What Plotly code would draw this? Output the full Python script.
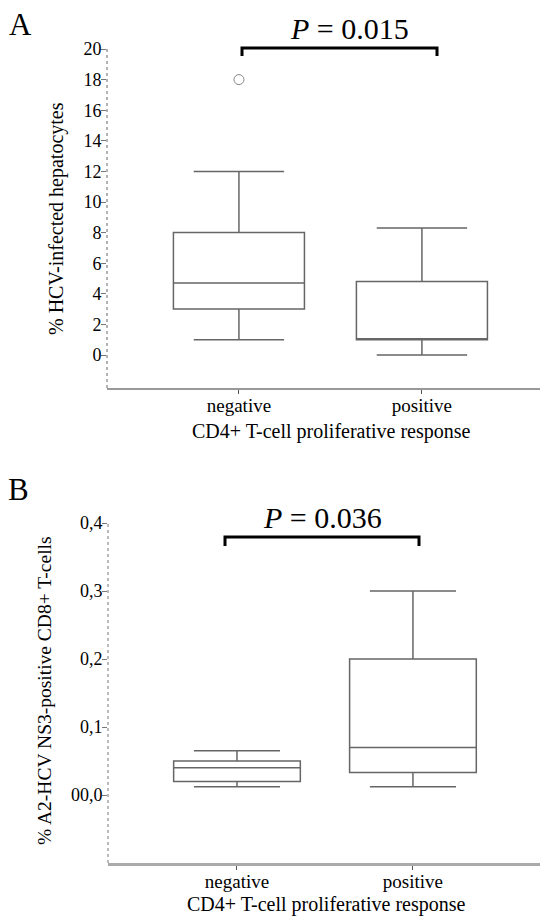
import plotly.graph_objects as go

# ---------------- data ----------------
categories = ["negative", "positive"]

# Panel A: % HCV-infected hepatocytes
a_lower = [1.0, 0.0]
a_q1 = [3.0, 1.0]
a_median = [4.7, 1.0]
a_q3 = [8.0, 4.8]
a_upper = [12.0, 8.3]
a_outlier_cat = ["negative"]
a_outlier_val = [18.0]
a_ticks = [0, 2, 4, 6, 8, 10, 12, 14, 16, 18, 20]
a_ticktext = ["0", "2", "4", "6", "8", "10", "12", "14", "16", "18", "20"]

# Panel B: % A2-HCV NS3-positive CD8+ T-cells
b_lower = [0.012, 0.012]
b_q1 = [0.020, 0.033]
b_median = [0.040, 0.070]
b_q3 = [0.050, 0.200]
b_upper = [0.065, 0.300]
b_ticks = [0.0, 0.1, 0.2, 0.3, 0.4]
b_ticktext = ["00,0", "0,1", "0,2", "0,3", "0,4"]

p_a = "<i>P</i> = 0.015"
p_b = "<i>P</i> = 0.036"
x_title = "CD4+ T-cell proliferative response"
a_y_title = "% HCV-infected hepatocytes"
b_y_title = "% A2-HCV NS3-positive CD8+ T-cells"

# ---------------- figure ----------------
# the page body has an 8px margin, so the figure is 8px smaller than the window
OFF = 8
W, H = 548 - OFF, 918 - OFF
FONT = '"Liberation Serif", "Times New Roman", "DejaVu Serif", serif'
BOXLINE = "#666666"


def px(x):
    return (x - OFF) / W


def py(y):
    return 1 - (y - OFF) / H


fig = go.Figure()

fig.add_trace(go.Box(
    x=categories, q1=a_q1, median=a_median, q3=a_q3,
    lowerfence=a_lower, upperfence=a_upper,
    boxpoints=False, width=0.716, whiskerwidth=0.69,
    line=dict(color=BOXLINE, width=1.5), fillcolor="rgba(0,0,0,0)",
    showlegend=False, xaxis="x", yaxis="y",
))
fig.add_trace(go.Scatter(
    x=a_outlier_cat, y=a_outlier_val, mode="markers",
    marker=dict(symbol="circle-open", size=10, color="#888888", line=dict(width=1)),
    showlegend=False, xaxis="x", yaxis="y",
))
fig.add_trace(go.Box(
    x=categories, q1=b_q1, median=b_median, q3=b_q3,
    lowerfence=b_lower, upperfence=b_upper,
    boxpoints=False, width=0.72, whiskerwidth=0.68,
    line=dict(color=BOXLINE, width=1.5), fillcolor="rgba(0,0,0,0)",
    showlegend=False, xaxis="x2", yaxis="y2",
))

xaxis_common = dict(
    type="category", showgrid=False, zeroline=False, showline=True,
    automargin=False,
    ticks="outside", ticklen=4, tickcolor="#555555", ticklabelstandoff=-5,
    tickfont=dict(family=FONT, size=19, color="black"),
)
yaxis_common = dict(
    showgrid=False, zeroline=False, showline=False,
    automargin=False,
    ticks="outside", ticklen=5, tickcolor="#777777", ticklabelstandoff=-4,
    tickfont=dict(family=FONT, size=18, color="black"),
)

fig.update_layout(
    width=W, height=H,
    margin=dict(l=0, r=0, t=0, b=0, autoexpand=False),
    paper_bgcolor="white", plot_bgcolor="white",
    font=dict(family=FONT, color="black"),
    xaxis=dict(**xaxis_common, domain=[px(107), 1.0], range=[-0.721, 1.689],
               linecolor="#999999", linewidth=1.5, anchor="y"),
    yaxis=dict(**yaxis_common, domain=[py(388), py(49)], range=[-2.157, 20],
               tickvals=a_ticks, ticktext=a_ticktext, anchor="x"),
    xaxis2=dict(**xaxis_common, domain=[px(108), px(540)], range=[-0.733, 1.722],
                linecolor="#aaaaaa", linewidth=2.5, anchor="y2"),
    yaxis2=dict(**yaxis_common, domain=[py(863), py(523)], range=[-0.1, 0.4],
                tickvals=b_ticks, ticktext=b_ticktext, anchor="x2"),
)

# dotted y-axis lines
fig.add_shape(type="line", xref="x domain", yref="y domain", x0=0, x1=0, y0=0, y1=1,
              line=dict(color="#666666", width=1, dash="dot"))
fig.add_shape(type="line", xref="x2 domain", yref="y2 domain", x0=0, x1=0, y0=0, y1=1,
              line=dict(color="#bbbbbb", width=2, dash="dot"))

# significance brackets
fig.add_shape(type="path", xref="paper", yref="paper",
              path=f"M {px(242)},{py(56)} L {px(242)},{py(48)} L {px(437)},{py(48)} L {px(437)},{py(56)}",
              line=dict(color="black", width=3))
fig.add_shape(type="path", xref="paper", yref="paper",
              path=f"M {px(225)},{py(546)} L {px(225)},{py(537)} L {px(419)},{py(537)} L {px(419)},{py(546)}",
              line=dict(color="black", width=3))


def label(text, x, y, size, angle=0):
    fig.add_annotation(text=text, xref="paper", yref="paper", x=px(x), y=py(y),
                       xanchor="center", yanchor="middle", textangle=angle,
                       showarrow=False, font=dict(family=FONT, size=size, color="black"))


label(p_a, 349, 28, 30)
label(p_b, 322, 517, 30)
label("A", 20, 24, 31)
label("B", 18, 489, 31)
label(x_title, 331, 431, 20)
label(x_title, 326, 904, 20)
label(a_y_title, 56, 219, 20, -90)
label(b_y_title, 44, 691, 19.5, -90)

fig.write_html("out.html")
